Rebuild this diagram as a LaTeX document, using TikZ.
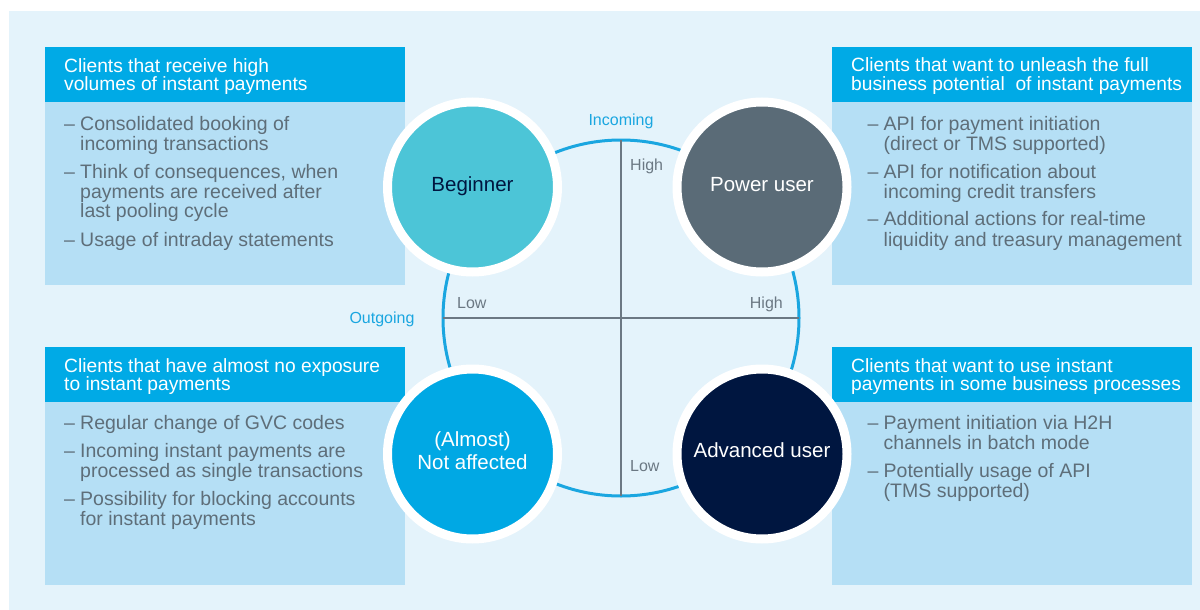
\documentclass[tikz,border=0pt]{standalone}
\usepackage{fontspec}
\setmainfont{Liberation Sans}
\definecolor{bgc}{HTML}{E4F3FB}
\definecolor{headc}{HTML}{00AAE6}
\definecolor{bodyc}{HTML}{B5DFF5}
\definecolor{begc}{HTML}{4CC5D7}
\definecolor{powc}{HTML}{5A6B77}
\definecolor{notc}{HTML}{00A8E4}
\definecolor{advc}{HTML}{001640}
\definecolor{bodytxtc}{HTML}{5E6E79}
\definecolor{axisc}{HTML}{6B7883}
\definecolor{ringc}{HTML}{1AA6E0}
\newcommand\itemdash{\makebox[16pt][l]{–}}
\newcommand\itemind{\hspace*{16pt}}
\begin{document}
\begin{tikzpicture}[x=1pt,y=-1pt,
  hdr/.style={inner sep=0, anchor=base west, text=white, font=\fontsize{19.2}{18}\selectfont},
  bodytxt/.style={inner sep=0, anchor=base west, text=bodytxtc, font=\fontsize{19.5}{20}\selectfont},
  quad/.style={circle, inner sep=0, outer sep=0, minimum size=170pt, draw=white, line width=9pt},
  quadlabel/.style={inner sep=0, font=\fontsize{20.5}{23}\selectfont, align=center},
  axislabel/.style={inner sep=0, anchor=base west, text=axisc, font=\fontsize{16}{18}\selectfont},
  dirlabel/.style={inner sep=0, anchor=base, text=ringc, font=\fontsize{16}{18}\selectfont}]
\useasboundingbox (0,0) rectangle (1200,610);
\fill[white] (0,0) rectangle (1200,610);
\fill[bgc] (9,11) rectangle (1200,610);
% boxes
\fill[headc] (45,47) rectangle (405,102);
\fill[bodyc] (45,102) rectangle (405,285);
\fill[headc] (832,47) rectangle (1192,102);
\fill[bodyc] (832,102) rectangle (1192,285);
\fill[headc] (45,347) rectangle (405,402);
\fill[bodyc] (45,402) rectangle (405,585);
\fill[headc] (832,347) rectangle (1192,402);
\fill[bodyc] (832,402) rectangle (1192,585);
% hub
\node[circle, inner sep=0, outer sep=0, minimum size=356pt, draw=ringc, line width=3pt] (hub) at (621,318) {};
\draw[axisc, line width=2pt] (hub.north) -- (hub.south);
\draw[axisc, line width=2pt] (hub.west) -- (hub.east);
% axis labels
\node[dirlabel] (incoming) at (621,125) {Incoming};
\node[dirlabel] (outgoing) at (382,323.5) {Outgoing};
\node[axislabel] (hightop) at (630,170) {High};
\node[axislabel] (lowleft) at (457,308) {Low};
\node[axislabel, anchor=base east] (highright) at (783,308) {High};
\node[axislabel] (lowbottom) at (630,471) {Low};
% quadrant circles
\node[quad, fill=begc] (beginner) at (472.5,187) {};
\node[quad, fill=powc] (power) at (762,187) {};
\node[quad, fill=notc] (notaff) at (472.5,454) {};
\node[quad, fill=advc] (advanced) at (762,454) {};
\node[quadlabel, anchor=base, text=advc] (beginnerlbl) at (472.5,191) {Beginner};
\node[quadlabel, anchor=base, text=white] (powerlbl) at (762,191) {Power user};
\node[quadlabel, text=white] (notafflbl) at (472.5,451) {(Almost)\\Not affected};
\node[quadlabel, anchor=base, text=white] (advancedlbl) at (762,457.5) {Advanced user};
% top-left texts
\node[hdr] (tlh) at (64,72.5) {\parbox[t]{340pt}{Clients that receive high\\volumes of instant payments}};
\node[bodytxt] (tlb) at (64,130) {\parbox[t]{340pt}{%
\itemdash Consolidated booking of\\\itemind incoming transactions\\[8pt]%
\itemdash Think of consequences, when\\\itemind payments are received after\\\itemind last pooling cycle\\[8pt]%
\itemdash Usage of intraday statements}};
% top-right texts
\node[hdr] (trh) at (851,72) {\parbox[t]{340pt}{Clients that want to unleash the full\\business potential~ of instant payments}};
\node[bodytxt] (trb) at (867.5,130) {\parbox[t]{340pt}{%
\itemdash API for payment initiation\\\itemind (direct or TMS supported)\\[8pt]%
\itemdash API for notification about\\\itemind incoming credit transfers\\[8pt]%
\itemdash Additional actions for real-time\\\itemind liquidity and treasury management}};
% bottom-left texts
\node[hdr] (blh) at (64,372) {\parbox[t]{340pt}{Clients that have almost no exposure\\to instant payments}};
\node[bodytxt] (blb) at (64,429) {\parbox[t]{340pt}{%
\itemdash Regular change of GVC codes\\[8pt]%
\itemdash Incoming instant payments are\\\itemind processed as single transactions\\[8pt]%
\itemdash Possibility for blocking accounts\\\itemind for instant payments}};
% bottom-right texts
\node[hdr] (brh) at (851,372) {\parbox[t]{340pt}{Clients that want to use instant\\payments in some business processes}};
\node[bodytxt] (brb) at (867.5,429) {\parbox[t]{340pt}{%
\itemdash Payment initiation via H2H\\\itemind channels in batch mode\\[8pt]%
\itemdash Potentially usage of API\\\itemind (TMS supported)}};
\end{tikzpicture}
\end{document}
